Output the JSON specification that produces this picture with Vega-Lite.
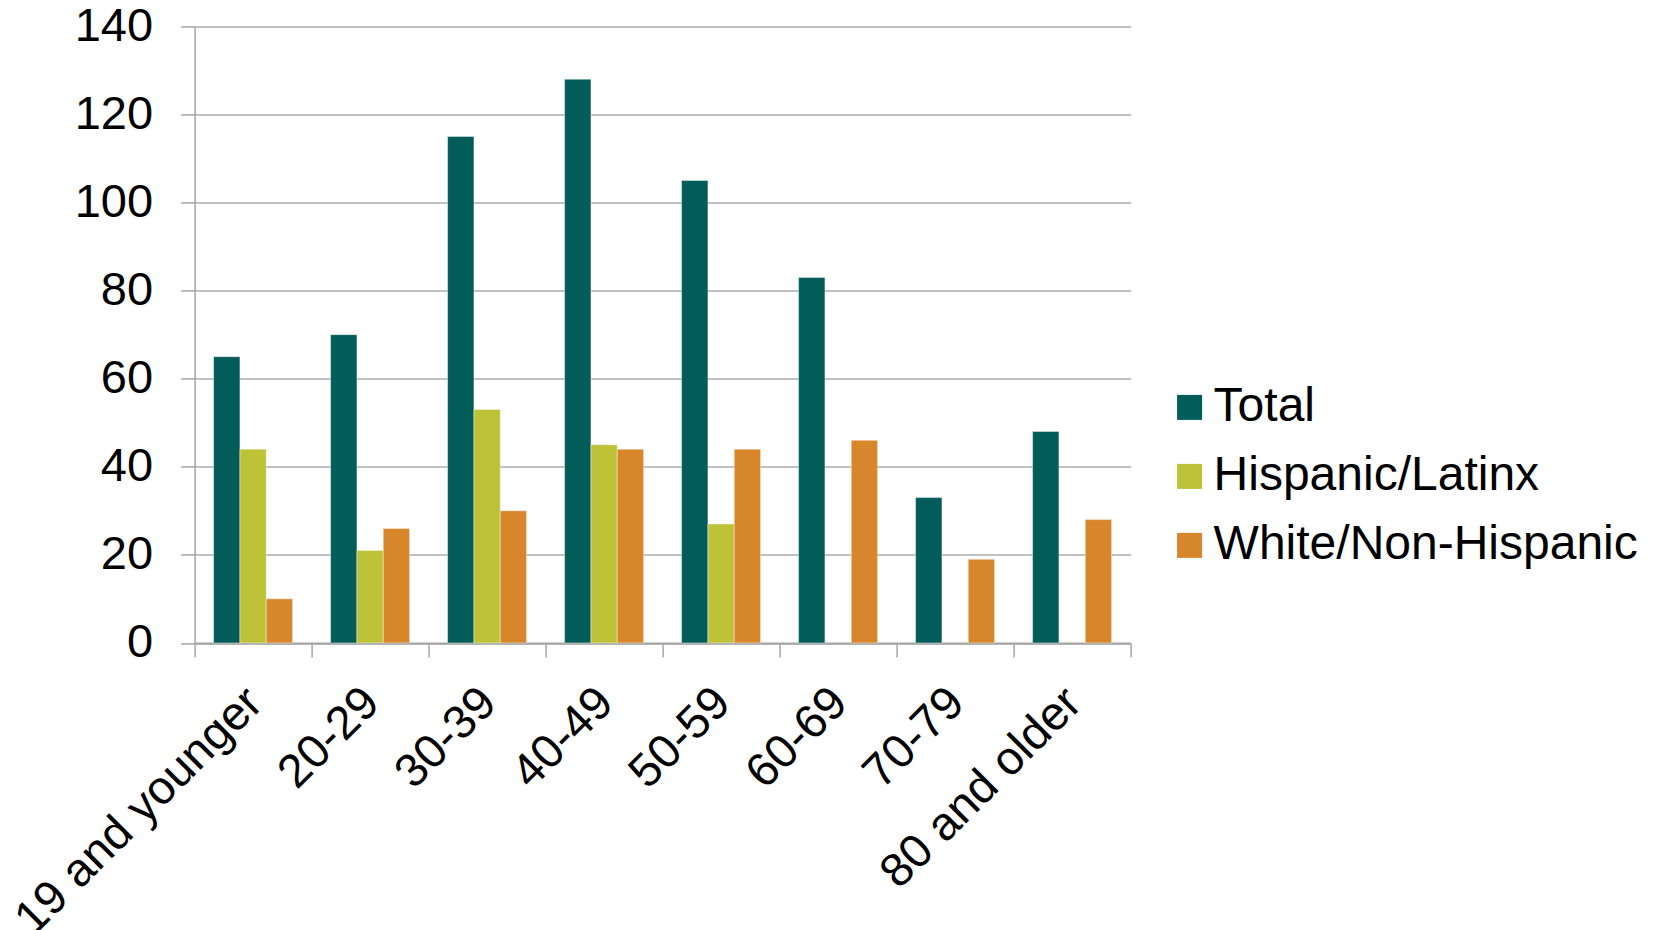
{
  "$schema": "https://vega.github.io/schema/vega-lite/v6.json",
  "autosize": "none",
  "width": 936,
  "height": 616.5,
  "padding": {"left": 194.6, "top": 26.4, "right": 527.4, "bottom": 287.1},
  "background": "white",
  "config": {
    "font": "Liberation Sans",
    "view": {"stroke": null}
  },
  "data": {
    "values": [
      {"age": "19 and younger", "group": "Total", "value": 65},
      {"age": "19 and younger", "group": "Hispanic/Latinx", "value": 44},
      {"age": "19 and younger", "group": "White/Non-Hispanic", "value": 10},
      {"age": "20-29", "group": "Total", "value": 70},
      {"age": "20-29", "group": "Hispanic/Latinx", "value": 21},
      {"age": "20-29", "group": "White/Non-Hispanic", "value": 26},
      {"age": "30-39", "group": "Total", "value": 115},
      {"age": "30-39", "group": "Hispanic/Latinx", "value": 53},
      {"age": "30-39", "group": "White/Non-Hispanic", "value": 30},
      {"age": "40-49", "group": "Total", "value": 128},
      {"age": "40-49", "group": "Hispanic/Latinx", "value": 45},
      {"age": "40-49", "group": "White/Non-Hispanic", "value": 44},
      {"age": "50-59", "group": "Total", "value": 105},
      {"age": "50-59", "group": "Hispanic/Latinx", "value": 27},
      {"age": "50-59", "group": "White/Non-Hispanic", "value": 44},
      {"age": "60-69", "group": "Total", "value": 83},
      {"age": "60-69", "group": "White/Non-Hispanic", "value": 46},
      {"age": "70-79", "group": "Total", "value": 33},
      {"age": "70-79", "group": "White/Non-Hispanic", "value": 19},
      {"age": "80 and older", "group": "Total", "value": 48},
      {"age": "80 and older", "group": "White/Non-Hispanic", "value": 28}
    ]
  },
  "mark": {"type": "bar", "stroke": "#ffffff", "strokeWidth": 0.8, "strokeOpacity": 0.5},
  "encoding": {
    "x": {
      "field": "age",
      "type": "nominal",
      "sort": ["19 and younger", "20-29", "30-39", "40-49", "50-59", "60-69", "70-79", "80 and older"],
      "scale": {"paddingInner": 0, "paddingOuter": 0},
      "axis": {
        "title": null,
        "labelAngle": -45,
        "labelFontSize": 47,
        "labelColor": "#000000",
        "labelPadding": 22,
        "labelOffset": -15,
        "labelLimit": 1000,
        "tickBand": "extent",
        "tickSize": 14,
        "tickColor": "#A6A6A6",
        "tickWidth": 1.5,
        "domainColor": "#A6A6A6",
        "domainWidth": 2,
        "grid": false,
        "labelOverlap": false
      }
    },
    "xOffset": {
      "field": "group",
      "type": "nominal",
      "sort": ["Total", "Hispanic/Latinx", "White/Non-Hispanic"],
      "scale": {"domain": ["Total", "Hispanic/Latinx", "White/Non-Hispanic"], "paddingInner": 0, "paddingOuter": 0.722}
    },
    "y": {
      "field": "value",
      "type": "quantitative",
      "scale": {"domain": [0, 140], "nice": false},
      "axis": {
        "title": null,
        "values": [0, 20, 40, 60, 80, 100, 120, 140],
        "labelFontSize": 47,
        "labelColor": "#000000",
        "labelPadding": 28,
        "tickSize": 14,
        "tickColor": "#A6A6A6",
        "tickWidth": 1.5,
        "domainColor": "#A6A6A6",
        "domainWidth": 1.5,
        "gridColor": "#ADADAD",
        "gridWidth": 1.5
      }
    },
    "color": {
      "field": "group",
      "type": "nominal",
      "scale": {
        "domain": ["Total", "Hispanic/Latinx", "White/Non-Hispanic"],
        "range": ["#025C5A", "#BDC237", "#D8862C"]
      },
      "legend": {
        "title": null,
        "orient": "none",
        "legendX": 971,
        "legendY": 357,
        "symbolType": "square",
        "symbolSize": 625,
        "symbolStrokeWidth": 0,
        "labelFontSize": 48,
        "labelColor": "#000000",
        "labelOffset": 0,
        "rowPadding": 21,
        "labelLimit": 600
      }
    }
  }
}
